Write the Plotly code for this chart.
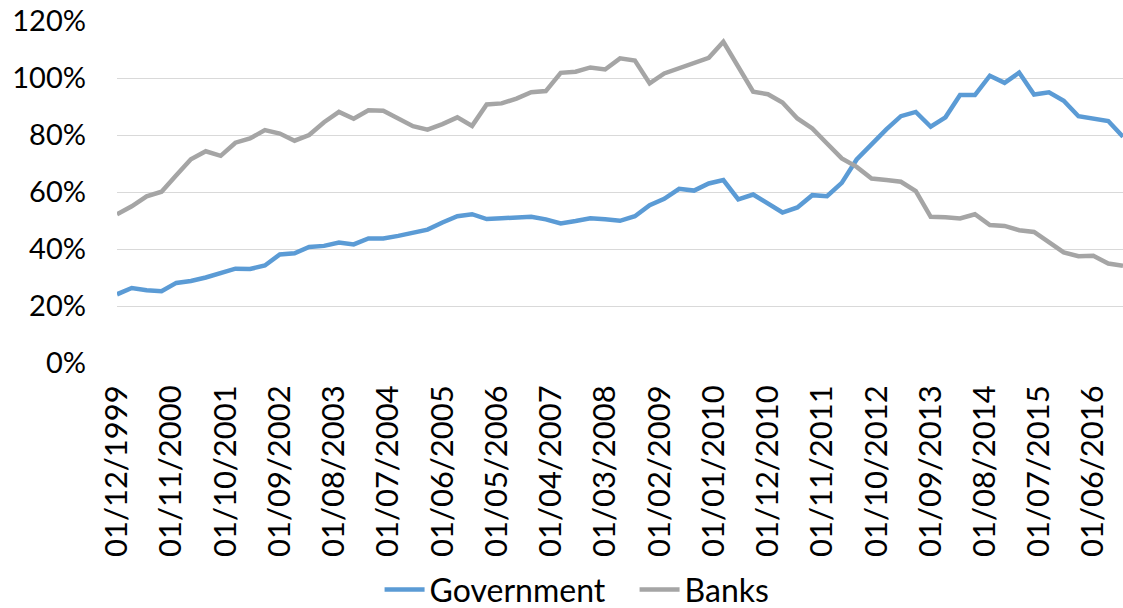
import plotly.graph_objects as go
import pandas as pd

# Quarterly observations, Dec 1999 .. Dec 2016
start_date = "1999-12-01"
n_points = 69
dates = pd.date_range(start_date, periods=n_points, freq="3MS")

government = [
    24.1, 26.3, 25.5, 25.2, 28.1, 28.8, 30.0, 31.7, 33.1, 33.0,
    34.2, 38.1, 38.5, 40.7, 41.1, 42.3, 41.6, 43.7, 43.7, 44.6,
    45.7, 46.8, 49.3, 51.5, 52.2, 50.5, 50.8, 50.9, 51.3, 50.4,
    49.0, 49.8, 50.8, 50.4, 49.9, 51.5, 55.4, 57.6, 61.1, 60.5,
    63.0, 64.2, 57.4, 59.1, 56.0, 52.8, 54.6, 58.9, 58.5, 63.2,
    71.4, 76.8, 82.0, 86.6, 88.1, 82.9, 86.2, 94.0, 94.0, 100.8,
    98.3, 101.9, 94.2, 95.0, 92.0, 86.6, 85.6, 84.9, 79.4,
]

banks = [
    52.2, 55.0, 58.5, 60.1, 65.9, 71.5, 74.3, 72.7, 77.3, 78.8,
    81.7, 80.5, 78.0, 80.0, 84.5, 88.1, 85.7, 88.7, 88.5, 85.8,
    83.1, 81.9, 83.8, 86.2, 83.2, 90.7, 91.1, 92.8, 95.0, 95.4,
    101.8, 102.2, 103.7, 103.0, 106.9, 106.1, 98.1, 101.6, 103.4, 105.1,
    107.1, 112.7, 103.9, 95.2, 94.3, 91.4, 85.8, 82.3, 77.0, 71.8,
    68.8, 64.7, 64.2, 63.6, 60.3, 51.3, 51.1, 50.7, 52.2, 48.4,
    48.1, 46.6, 46.0, 42.3, 38.8, 37.5, 37.6, 34.9, 34.1,
]

tick_labels = [
    "01/12/1999", "01/11/2000", "01/10/2001", "01/09/2002", "01/08/2003",
    "01/07/2004", "01/06/2005", "01/05/2006", "01/04/2007", "01/03/2008",
    "01/02/2009", "01/01/2010", "01/12/2010", "01/11/2011", "01/10/2012",
    "01/09/2013", "01/08/2014", "01/07/2015", "01/06/2016",
]
tick_vals = [pd.to_datetime(t, format="%d/%m/%Y") for t in tick_labels]

y_ticks = [0, 0.2, 0.4, 0.6, 0.8, 1.0, 1.2]

FONT = "Lato"

fig = go.Figure()
fig.add_trace(go.Scatter(
    x=dates, y=[v / 100 for v in government], name="Government",
    mode="lines", line=dict(color="#5b9bd5", width=4.5),
))
fig.add_trace(go.Scatter(
    x=dates, y=[v / 100 for v in banks], name="Banks",
    mode="lines", line=dict(color="#a5a5a5", width=4.5),
))

fig.update_layout(
    width=1123, height=608,
    margin=dict(l=117, r=0, t=21, b=245),
    paper_bgcolor="white", plot_bgcolor="white",
    font=dict(family=FONT, size=29, color="#000000"),
    showlegend=True,
    legend=dict(
        orientation="h", xref="container", yref="container",
        x=0.338, xanchor="left", y=0.03, yanchor="middle",
        font=dict(family=FONT, size=32), itemwidth=40,
        entrywidth=200,
        bgcolor="rgba(0,0,0,0)",
    ),
    xaxis=dict(
        type="date",
        range=[dates[0], dates[-1]],
        tickvals=tick_vals, ticktext=tick_labels,
        tickangle=-90, showgrid=False, zeroline=False, showline=False,
        ticks="", ticklabelstandoff=15,
        tickfont=dict(family=FONT, size=31),
    ),
    yaxis=dict(
        range=[0, 1.2], tickvals=y_ticks, tickformat=".0%",
        showgrid=True, gridcolor="#d9d9d9", gridwidth=1.3,
        zeroline=False, showline=False, ticks="",
        ticklabelstandoff=30,
        tickfont=dict(family=FONT, size=29),
    ),
)

fig.write_html(
    "out.html",
    config={"displayModeBar": False},
    post_script="document.body.style.margin='0';document.body.style.overflow='hidden';",
)
